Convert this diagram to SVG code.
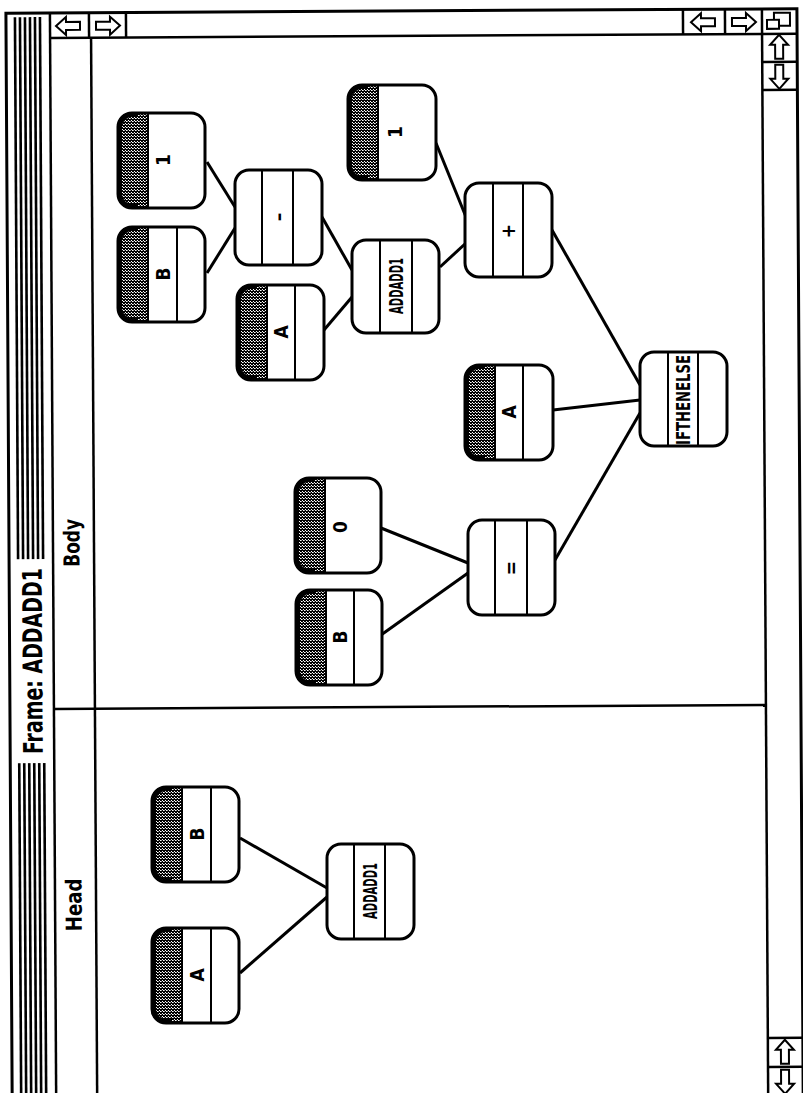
<svg xmlns="http://www.w3.org/2000/svg" width="803" height="1093" viewBox="0 0 803 1093">
<style>
.ln{stroke:#000;stroke-width:3;fill:none}
.fr{stroke:#000;stroke-width:2.5;fill:none}
.box{fill:#fff;stroke:#000;stroke-width:3}
.div{stroke:#000;stroke-width:2}
.shade{fill:url(#dots)}
.edge{fill:none;stroke:#000;stroke-width:5}
.lbl{font-family:"DejaVu Sans","Liberation Sans",sans-serif;font-stretch:condensed;font-size:19px;font-weight:bold;fill:#000}
.big{font-family:"DejaVu Sans","Liberation Sans",sans-serif;font-stretch:condensed;font-weight:bold;fill:#000}
.arr{fill:#fff;stroke:#000;stroke-width:2;stroke-linejoin:miter}
</style>
<defs>
<pattern id="dots" width="3" height="3" patternUnits="userSpaceOnUse">
<rect width="3" height="3" fill="#000"/>
<rect x="1" y="1" width="1" height="1" fill="#fff"/>
<rect x="2" y="2" width="1" height="1" fill="#fff"/>
<rect x="0" y="2" width="1" height="1" fill="#999"/>
</pattern>
<path id="larr" d="M-13,0 L-3,-9 L-3,-4 L11,-4 L11,4 L-3,4 L-3,9 Z"/>
<path id="shp" d="M30,0 H14 A14,14 0 0 0 0,14 V81 A14,14 0 0 0 14,95 H30 Z"/>
<path id="edg" d="M20,1.5 H14 A12.5,12.5 0 0 0 1.5,14 V81 A12.5,12.5 0 0 0 14,93.5 H20"/>
</defs>
<rect width="803" height="1093" fill="#fff"/>
<g id="window" transform="rotate(-0.33 400 546)">
<rect x="9" y="11" width="791" height="1100" fill="none" stroke="#000" stroke-width="3"/>
<g id="titlebar">
<line x1="53" y1="11" x2="53" y2="1100" class="fr"/>
<g stroke="#000" stroke-width="2.6">
<line x1="18" y1="15" x2="18" y2="1100"/>
<line x1="23" y1="15" x2="23" y2="1100"/>
<line x1="28" y1="15" x2="28" y2="1100"/>
<line x1="33" y1="15" x2="33" y2="1100"/>
<line x1="38" y1="15" x2="38" y2="1100"/>
<line x1="43" y1="15" x2="43" y2="1100"/>
</g>
<rect x="14" y="557" width="36" height="204" fill="#fff"/>
<text class="big" font-size="27" text-anchor="middle" dominant-baseline="central" textLength="186" lengthAdjust="spacingAndGlyphs" transform="translate(32 659) rotate(-90)">Frame: ADDADD1</text>
</g>
<g id="hscroll">
<line x1="53" y1="36" x2="800" y2="36" class="fr"/>
<line x1="92" y1="11" x2="92" y2="36" class="fr"/>
<line x1="129" y1="11" x2="129" y2="36" class="fr"/>
<line x1="686" y1="11" x2="686" y2="36" class="fr"/>
<line x1="728" y1="11" x2="728" y2="36" class="fr"/>
<use href="#larr" class="arr" transform="translate(72 24)"/>
<use href="#larr" class="arr" transform="translate(110 24) rotate(180)"/>
<use href="#larr" class="arr" transform="translate(707 24)"/>
<use href="#larr" class="arr" transform="translate(746 24) rotate(180)"/>
</g>
<g id="zoombox">
<line x1="765" y1="11" x2="765" y2="36" class="fr"/>
<rect x="777" y="15" width="16" height="13" fill="#fff" stroke="#000" stroke-width="2"/>
<rect x="770" y="22" width="12" height="9" fill="#fff" stroke="#000" stroke-width="2"/>
</g>
<g id="vscroll">
<line x1="765" y1="36" x2="765" y2="1100" class="fr"/>
<line x1="765" y1="64" x2="800" y2="64" class="fr"/>
<line x1="765" y1="92" x2="800" y2="92" class="fr"/>
<line x1="765" y1="1040" x2="800" y2="1040" class="fr"/>
<line x1="765" y1="1069" x2="800" y2="1069" class="fr"/>
<use href="#larr" class="arr" transform="translate(782 50) rotate(90)"/>
<use href="#larr" class="arr" transform="translate(782 78) rotate(-90)"/>
<use href="#larr" class="arr" transform="translate(782 1055) rotate(90)"/>
<use href="#larr" class="arr" transform="translate(782 1083) rotate(-90)"/>
</g>
<g id="panes">
<line x1="94" y1="36" x2="94" y2="1100" class="fr"/>
<line x1="53" y1="707" x2="765" y2="707" class="fr"/>
<text class="big" font-size="22" text-anchor="middle" dominant-baseline="central" textLength="53" lengthAdjust="spacingAndGlyphs" transform="translate(72 903) rotate(-90)">Head</text>
<text class="big" font-size="22" text-anchor="middle" dominant-baseline="central" textLength="48" lengthAdjust="spacingAndGlyphs" transform="translate(72 541) rotate(-90)">Body</text>
</g>
</g>
<g id="connectors" class="ln">
<line x1="240" y1="838" x2="327" y2="888"/>
<line x1="240" y1="973" x2="327" y2="897"/>
<line x1="207" y1="162" x2="235" y2="207"/>
<line x1="207" y1="273" x2="235" y2="228"/>
<line x1="322" y1="217" x2="352" y2="270"/>
<line x1="324" y1="330" x2="352" y2="297"/>
<line x1="436" y1="143" x2="466" y2="217"/>
<line x1="440" y1="267" x2="466" y2="243"/>
<line x1="552" y1="230" x2="640" y2="385"/>
<line x1="553" y1="410" x2="640" y2="400"/>
<line x1="555" y1="560" x2="640" y2="413"/>
<line x1="381" y1="528" x2="468" y2="563"/>
<line x1="381" y1="635" x2="468" y2="573"/>
</g>
<g id="head-B" transform="translate(152 787)">
<rect width="87" height="95" rx="14" fill="#fff"/>
<use href="#shp" class="shade"/><use href="#edg" class="edge"/>
<line x1="30" y1="0" x2="30" y2="95" class="div"/><line x1="59" y1="0" x2="59" y2="95" class="div"/>
<rect width="87" height="95" rx="14" fill="none" stroke="#000" stroke-width="3"/>
<text class="lbl" text-anchor="middle" dominant-baseline="central" transform="translate(45 47) rotate(-90)">B</text>
</g>
<g id="head-A" transform="translate(152 928)">
<rect width="87" height="95" rx="14" fill="#fff"/>
<use href="#shp" class="shade"/><use href="#edg" class="edge"/>
<line x1="30" y1="0" x2="30" y2="95" class="div"/><line x1="59" y1="0" x2="59" y2="95" class="div"/>
<rect width="87" height="95" rx="14" fill="none" stroke="#000" stroke-width="3"/>
<text class="lbl" text-anchor="middle" dominant-baseline="central" transform="translate(45 47) rotate(-90)">A</text>
</g>
<g id="head-ADDADD1" transform="translate(327 844)">
<rect width="87" height="95" rx="14" class="box"/>
<line x1="27" y1="0" x2="27" y2="95" class="div"/><line x1="58" y1="0" x2="58" y2="95" class="div"/>
<text class="lbl" font-size="22" font-weight="normal" text-anchor="middle" dominant-baseline="central" textLength="56" lengthAdjust="spacingAndGlyphs" transform="translate(43 47) rotate(-90)">ADDADD1</text>
</g>
<g id="body-1a" transform="translate(118 113)">
<rect width="87" height="95" rx="14" fill="#fff"/>
<use href="#shp" class="shade"/><use href="#edg" class="edge"/>
<line x1="30" y1="0" x2="30" y2="95" class="div"/>
<rect width="87" height="95" rx="14" fill="none" stroke="#000" stroke-width="3"/>
<text class="lbl" text-anchor="middle" dominant-baseline="central" transform="translate(45 47) rotate(-90)">1</text>
</g>
<g id="body-B1" transform="translate(118 227)">
<rect width="87" height="95" rx="14" fill="#fff"/>
<use href="#shp" class="shade"/><use href="#edg" class="edge"/>
<line x1="30" y1="0" x2="30" y2="95" class="div"/><line x1="59" y1="0" x2="59" y2="95" class="div"/>
<rect width="87" height="95" rx="14" fill="none" stroke="#000" stroke-width="3"/>
<text class="lbl" text-anchor="middle" dominant-baseline="central" transform="translate(45 47) rotate(-90)">B</text>
</g>
<g id="body-minus" transform="translate(235 170)">
<rect width="87" height="95" rx="14" class="box"/>
<line x1="27" y1="0" x2="27" y2="95" class="div"/><line x1="58" y1="0" x2="58" y2="95" class="div"/>
<text class="lbl" font-size="24" text-anchor="middle" dominant-baseline="central" transform="translate(43 47) rotate(-90)">–</text>
</g>
<g id="body-A1" transform="translate(237 285)">
<rect width="87" height="95" rx="14" fill="#fff"/>
<use href="#shp" class="shade"/><use href="#edg" class="edge"/>
<line x1="30" y1="0" x2="30" y2="95" class="div"/><line x1="58" y1="0" x2="58" y2="95" class="div"/>
<rect width="87" height="95" rx="14" fill="none" stroke="#000" stroke-width="3"/>
<text class="lbl" text-anchor="middle" dominant-baseline="central" transform="translate(44 47) rotate(-90)">A</text>
</g>
<g id="body-ADDADD1" transform="translate(352 240)">
<rect width="87" height="93" rx="14" class="box"/>
<line x1="28" y1="0" x2="28" y2="93" class="div"/><line x1="60" y1="0" x2="60" y2="93" class="div"/>
<text class="lbl" font-size="22" font-weight="normal" text-anchor="middle" dominant-baseline="central" textLength="56" lengthAdjust="spacingAndGlyphs" transform="translate(44 46) rotate(-90)">ADDADD1</text>
</g>
<g id="body-1b" transform="translate(348 85)">
<rect width="88" height="95" rx="14" fill="#fff"/>
<use href="#shp" class="shade"/><use href="#edg" class="edge"/>
<line x1="30" y1="0" x2="30" y2="95" class="div"/>
<rect width="88" height="95" rx="14" fill="none" stroke="#000" stroke-width="3"/>
<text class="lbl" text-anchor="middle" dominant-baseline="central" transform="translate(47 47) rotate(-90)">1</text>
</g>
<g id="body-plus" transform="translate(465 183)">
<rect width="87" height="94" rx="14" class="box"/>
<line x1="28" y1="0" x2="28" y2="94" class="div"/><line x1="58" y1="0" x2="58" y2="94" class="div"/>
<text class="lbl" font-size="21" text-anchor="middle" dominant-baseline="central" transform="translate(43 48) rotate(-90)">+</text>
</g>
<g id="body-A2" transform="translate(465 365)">
<rect width="88" height="95" rx="14" fill="#fff"/>
<use href="#shp" class="shade"/><use href="#edg" class="edge"/>
<line x1="30" y1="0" x2="30" y2="95" class="div"/><line x1="58" y1="0" x2="58" y2="95" class="div"/>
<rect width="88" height="95" rx="14" fill="none" stroke="#000" stroke-width="3"/>
<text class="lbl" text-anchor="middle" dominant-baseline="central" transform="translate(44 47) rotate(-90)">A</text>
</g>
<g id="body-IFTHENELSE" transform="translate(640 352)">
<rect width="87" height="94" rx="14" class="box"/>
<line x1="28" y1="0" x2="28" y2="94" class="div"/><line x1="58" y1="0" x2="58" y2="94" class="div"/>
<text class="lbl" font-size="22" font-weight="normal" text-anchor="middle" dominant-baseline="central" textLength="90" lengthAdjust="spacingAndGlyphs" transform="translate(43 48) rotate(-90)">IFTHENELSE</text>
</g>
<g id="body-0" transform="translate(295 478)">
<rect width="86" height="95" rx="14" fill="#fff"/>
<use href="#shp" class="shade"/><use href="#edg" class="edge"/>
<line x1="30" y1="0" x2="30" y2="95" class="div"/>
<rect width="86" height="95" rx="14" fill="none" stroke="#000" stroke-width="3"/>
<text class="lbl" text-anchor="middle" dominant-baseline="central" transform="translate(45 49) rotate(-90)">0</text>
</g>
<g id="body-eq" transform="translate(468 520)">
<rect width="87" height="95" rx="14" class="box"/>
<line x1="27" y1="0" x2="27" y2="95" class="div"/><line x1="59" y1="0" x2="59" y2="95" class="div"/>
<text class="lbl" font-size="21" text-anchor="middle" dominant-baseline="central" transform="translate(43 48) rotate(-90)">=</text>
</g>
<g id="body-B2" transform="translate(296 590)">
<rect width="86" height="95" rx="14" fill="#fff"/>
<use href="#shp" class="shade"/><use href="#edg" class="edge"/>
<line x1="30" y1="0" x2="30" y2="95" class="div"/><line x1="58" y1="0" x2="58" y2="95" class="div"/>
<rect width="86" height="95" rx="14" fill="none" stroke="#000" stroke-width="3"/>
<text class="lbl" text-anchor="middle" dominant-baseline="central" transform="translate(44 47) rotate(-90)">B</text>
</g>
</svg>
